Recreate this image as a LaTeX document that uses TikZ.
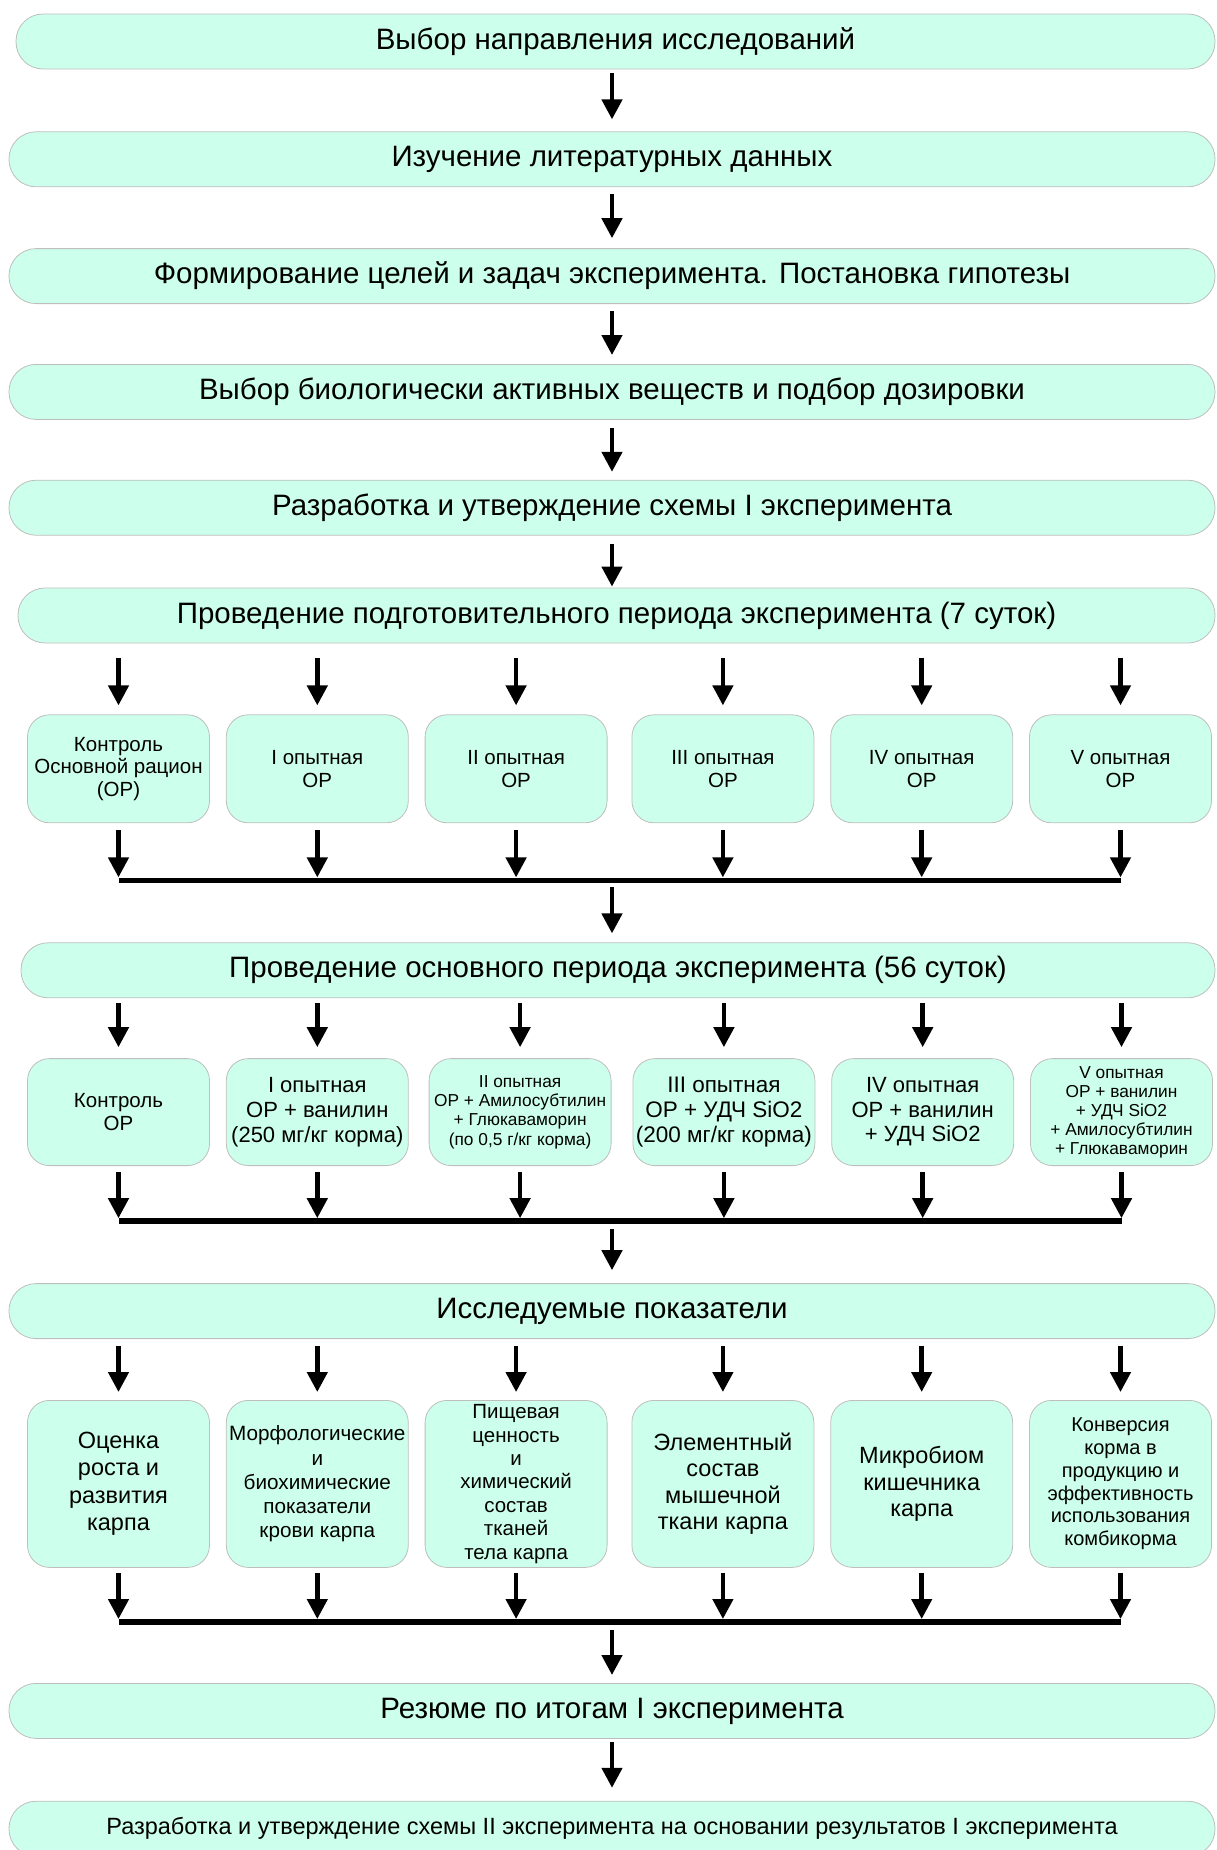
\documentclass[tikz,border=0pt]{standalone}
\usepackage{fontspec}
\setmainfont{Liberation Sans}
\usetikzlibrary{positioning,arrows.meta}
\definecolor{mint}{RGB}{204,255,236}
\definecolor{rim}{RGB}{190,190,190}

\begin{document}
\begin{tikzpicture}[x=1pt,y=1pt,
stage/.style={rectangle, rounded corners=27pt, draw=rim, line width=0.8pt, fill=mint, minimum width=1206pt, minimum height=55pt, font=\fontsize{29.5}{33}\selectfont},
group/.style={rectangle, rounded corners=22pt, draw=rim, line width=0.8pt, fill=mint, minimum width=182pt, align=center, inner xsep=1pt, inner ysep=1pt},
fs/.style 2 args={font=\fontsize{#1}{#2}\selectfont},
arr/.style={-{Triangle[width=20pt,length=20pt]}, line width=4.5pt},
bar/.style={line width=5.5pt}
]
\useasboundingbox (0,0) rectangle (1216,-1850);

% main stages
\node[stage, minimum width=1199pt](choice) at (615.5,-41.5){Выбор направления исследований};
\node[stage](lit)[below=62pt of choice, xshift=-3.5pt]{Изучение литературных данных};
\node[stage](goals)[below=61pt of lit]{Формирование целей и задач эксперимента. Постановка гипотезы};
\node[stage](subst)[below=60pt of goals]{Выбор биологически активных веществ и подбор дозировки};
\node[stage](plan1)[below=60pt of subst]{Разработка и утверждение схемы I эксперимента};
\node[stage, minimum width=1197pt](prep)[below=52pt of plan1, xshift=4.5pt]{Проведение подготовительного периода эксперимента (7 суток)};

% preparatory groups
\node[group, minimum height=108pt, fs={20.5}{22.5}](prep_c)[below=71pt of prep, xshift=-498pt]{Контроль\\Основной рацион\\(ОР)};
\node[group, minimum height=108pt, fs={20.5}{22.5}](prep_1)[right=16pt of prep_c]{I опытная\\ОР};
\node[group, minimum height=108pt, fs={20.5}{22.5}](prep_2)[right=16pt of prep_1]{II опытная\\ОР};
\node[group, minimum height=108pt, fs={20.5}{22.5}](prep_3)[right=24pt of prep_2]{III опытная\\ОР};
\node[group, minimum height=108pt, fs={20.5}{22.5}](prep_4)[right=16pt of prep_3]{IV опытная\\ОР};
\node[group, minimum height=108pt, fs={20.5}{22.5}](prep_5)[right=16pt of prep_4]{V опытная\\ОР};
\coordinate[below=237pt of prep](bar_prep);

\node[stage, minimum width=1194pt](mainper)[below=62pt of bar_prep, xshift=1.5pt]{Проведение основного периода эксперимента (56 суток)};

% main period groups
\node[group, minimum height=107pt, fs={20.5}{22.5}](main_c)[below=60pt of mainper, xshift=-499.5pt]{Контроль\\ОР};
\node[group, minimum height=107pt, fs={22}{24.7}](main_1)[right=16pt of main_c]{I опытная\\ОР + ванилин\\(250 мг/кг корма)};
\node[group, minimum height=107pt, fs={17.3}{19.2}](main_2)[right=20pt of main_1]{II опытная\\ОР + Амилосубтилин\\+ Глюкаваморин\\(по 0,5 г/кг корма)};
\node[group, minimum height=107pt, fs={22.5}{24.7}](main_3)[right=21pt of main_2]{III опытная\\ОР + УДЧ SiO2\\(200 мг/кг корма)};
\node[group, minimum height=107pt, fs={22}{24.5}](main_4)[right=16pt of main_3]{IV опытная\\ОР + ванилин\\+ УДЧ SiO2};
\node[group, minimum height=107pt, fs={17.3}{18.9}](main_5)[right=16pt of main_4]{V опытная\\ОР + ванилин\\+ УДЧ SiO2\\+ Амилосубтилин\\+ Глюкаваморин};
\coordinate[below=223pt of mainper](bar_main);

\node[stage](indic)[below=62pt of bar_main -| lit]{Исследуемые показатели};

% indicators
\node[group, minimum height=167pt, fs={23.5}{27.5}](ind_1)[below=61pt of indic, xshift=-493.5pt]{Оценка\\роста и\\развития\\карпа};
\node[group, minimum height=167pt, fs={20.7}{24.2}](ind_2)[right=16pt of ind_1]{Морфологические\\и\\биохимические\\показатели\\крови карпа};
\node[group, minimum height=167pt, fs={20.5}{23.4}](ind_3)[right=16pt of ind_2]{Пищевая\\ценность\\и\\химический\\состав\\тканей\\тела карпа};
\node[group, minimum height=167pt, fs={23.5}{26.5}](ind_4)[right=24pt of ind_3]{Элементный\\состав\\мышечной\\ткани карпа};
\node[group, minimum height=167pt, fs={23.5}{26.5}](ind_5)[right=16pt of ind_4]{Микробиом\\кишечника\\карпа};
\node[group, minimum height=167pt, fs={20}{22.7}](ind_6)[right=16pt of ind_5]{Конверсия\\корма в\\продукцию и\\эффективность\\использования\\комбикорма};
\coordinate[below=283pt of indic](bar_ind);

\node[stage](summ)[below=61pt of bar_ind]{Резюме по итогам I эксперимента};
\node[stage, fs={23.5}{27}](plan2)[below=62pt of summ]{Разработка и утверждение схемы II эксперимента на основании результатов I эксперимента};

% connectors
\foreach \a/\b/\s/\e in {choice/lit/4pt/12pt, lit/goals/7pt/10pt, goals/subst/7pt/9pt, subst/plan1/8pt/8pt, plan1/prep/8pt/1pt, summ/plan2/3pt/13pt}
  \draw[arr, shorten <=\s, shorten >=\e] (\a.south -| lit) -- (\b.north -| lit);

\foreach \g in {prep_c,prep_1,prep_2,prep_3,prep_4,prep_5}{
  \draw[arr, shorten <=15pt, shorten >=9pt] (prep.south -| \g) -- (\g);
  \draw[arr, shorten <=7pt, shorten >=3pt] (\g) -- (\g |- bar_prep);
}
\draw[bar] (prep_c |- bar_prep) -- (prep_5 |- bar_prep);
\draw[arr, shorten <=7pt, shorten >=9pt] (bar_prep -| lit) -- (mainper.north -| lit);

\foreach \g in {main_c,main_1,main_2,main_3,main_4,main_5}{
  \draw[arr, shorten <=5pt, shorten >=11pt] (mainper.south -| \g) -- (\g);
  \draw[arr, shorten <=6pt, shorten >=3pt] (\g) -- (\g |- bar_main);
}
\draw[bar] (main_c |- bar_main) -- (main_5 |- bar_main);
\draw[arr, shorten <=8pt, shorten >=13pt] (bar_main -| lit) -- (indic);

\foreach \g in {ind_1,ind_2,ind_3,ind_4,ind_5,ind_6}{
  \draw[arr, shorten <=7pt, shorten >=8pt] (indic.south -| \g) -- (\g);
  \draw[arr, shorten <=5pt, shorten >=3pt] (\g) -- (\g |- bar_ind);
}
\draw[bar] (ind_1 |- bar_ind) -- (ind_6 |- bar_ind);
\draw[arr, shorten <=8pt, shorten >=8pt] (bar_ind) -- (summ);
\end{tikzpicture}
\end{document}
